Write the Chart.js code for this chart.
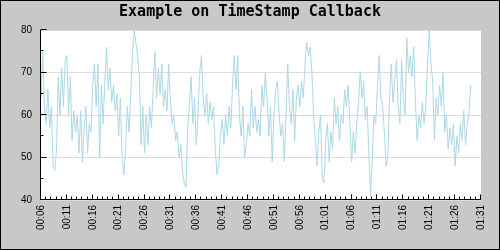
<!DOCTYPE html>
<html>
<head>
<meta charset="utf-8">
<script src="https://cdn.jsdelivr.net/npm/chart.js@4"></script>
<style>
  html, body { margin: 0; padding: 0; background: #c8c8c8; }
</style>
</head>
<body>
<canvas id="chart" width="500" height="250"></canvas>
<script>
// one reading every 20 s starting at 00:06
const startMinute = 6;
const stepMinutes = 1 / 3;
const values = [
  64, 75, 62, 58, 66, 57, 62, 48, 47, 52, 69, 60, 71, 62, 73,
  74, 60, 69, 54, 61, 56, 60, 51, 61, 49, 57, 62, 51, 58, 56,
  67, 72, 62, 72, 50, 67, 58, 68, 76, 66, 71, 63, 67, 61, 65,
  55, 64, 50, 46, 52, 62, 56, 65, 74, 80, 77, 74, 69, 53, 62,
  51, 60, 53, 62, 57, 66, 75, 64, 71, 65, 72, 62, 66, 61, 72,
  63, 58, 60, 54, 56, 50, 53, 47, 44, 43, 57, 62, 69, 58, 64,
  53, 60, 70, 74, 64, 60, 65, 58, 63, 59, 62, 52, 46, 48, 55,
  59, 53, 60, 55, 62, 57, 67, 74, 66, 74, 60, 55, 62, 50, 53,
  58, 55, 66, 57, 62, 56, 59, 55, 67, 62, 70, 64, 55, 62, 49,
  60, 66, 68, 60, 55, 58, 49, 60, 72, 62, 58, 66, 54, 64, 67,
  62, 68, 64, 72, 77, 74, 76, 70, 60, 54, 48, 56, 60, 45, 44,
  54, 58, 49, 56, 52, 64, 58, 62, 54, 60, 58, 66, 62, 67, 58,
  49, 56, 51, 58, 63, 70, 64, 68, 59, 62, 51, 41, 50, 60, 58,
  67, 74, 64, 62, 56, 48, 50, 64, 72, 63, 68, 73, 62, 58, 73,
  64, 60, 78, 70, 74, 69, 76, 63, 54, 60, 57, 63, 58, 62, 72,
  80, 72, 68, 54, 64, 60, 67, 62, 70, 56, 60, 52, 57, 53, 58,
  48, 55, 51, 58, 54, 61, 53, 58, 60, 67
];
const xTicks = [6, 11, 16, 21, 26, 31, 36, 41, 46, 51, 56, 61, 66, 71, 76, 81, 86, 91];
const yTicks = [40, 50, 60, 70, 80];

const points = values.map((v, i) => ({ x: startMinute + i * stepMinutes, y: v }));

function hhmm(m) {
  const h = Math.floor(m / 60);
  const mm = Math.round(m % 60);
  return String(h).padStart(2, '0') + ':' + String(mm).padStart(2, '0');
}

// gray margin, white plot, axes and inward tick marks like the original
const frame = {
  id: 'frame',
  beforeDraw(chart) {
    const { ctx, chartArea: a } = chart;
    ctx.save();
    ctx.fillStyle = '#c8c8c8';
    ctx.fillRect(0, 0, chart.width, chart.height);
    ctx.fillStyle = '#ffffff';
    ctx.fillRect(a.left, a.top, a.right - a.left, a.bottom - a.top);
    ctx.restore();
  },
  afterDraw(chart) {
    const { ctx, chartArea: a, scales: { x, y } } = chart;
    ctx.save();
    ctx.strokeStyle = '#000';
    ctx.lineWidth = 1;
    ctx.beginPath();
    const left = Math.round(a.left) - 0.5;
    const bottom = Math.round(a.bottom) - 0.5;
    ctx.moveTo(left, Math.round(a.top));
    ctx.lineTo(left, bottom);
    ctx.lineTo(Math.round(a.right), bottom);
    // x ticks every minute, longer every 5
    for (let m = xTicks[0]; m <= xTicks[xTicks.length - 1]; m++) {
      const px = Math.round(x.getPixelForValue(m)) - 0.5;
      const len = (m - xTicks[0]) % 5 === 0 ? 5 : 3;
      ctx.moveTo(px, bottom);
      ctx.lineTo(px, bottom - len);
    }
    // y ticks every 5, longer every 10
    for (let v = yTicks[0]; v <= yTicks[yTicks.length - 1]; v += 5) {
      const py = Math.round(y.getPixelForValue(v)) - 0.5;
      const len = v % 10 === 0 ? 6 : 3;
      ctx.moveTo(left, py);
      ctx.lineTo(left + len, py);
    }
    ctx.stroke();
    ctx.strokeRect(0.5, 0.5, chart.width - 1, chart.height - 1);
    ctx.restore();
  }
};

new Chart(document.getElementById('chart'), {
  type: 'line',
  data: {
    datasets: [{
      data: points,
      borderColor: '#add8e6',
      borderWidth: 1,
      pointRadius: 0,
      tension: 0,
      fill: false
    }]
  },
  options: {
    responsive: false,
    animation: false,
    layout: { padding: 0 },
    plugins: {
      legend: { display: false },
      tooltip: { enabled: false },
      title: {
        display: true,
        text: 'Example on TimeStamp Callback',
        color: '#000',
        font: { family: 'DejaVu Sans Mono', size: 15, weight: 'bold' },
        padding: { top: 3, bottom: 9 }
      }
    },
    scales: {
      x: {
        type: 'linear',
        min: xTicks[0],
        max: xTicks[xTicks.length - 1],
        afterBuildTicks(scale) { scale.ticks = xTicks.map(v => ({ value: v })); },
        afterFit(scale) { scale.height = 50; },
        grid: { display: false, drawTicks: false },
        border: { display: false },
        ticks: {
          autoSkip: false,
          minRotation: 90,
          maxRotation: 90,
          padding: 5,
          color: '#000',
          font: { family: 'Liberation Sans', size: 10 },
          callback: v => hhmm(v)
        }
      },
      y: {
        min: yTicks[0],
        max: yTicks[yTicks.length - 1],
        afterBuildTicks(scale) { scale.ticks = yTicks.map(v => ({ value: v })); },
        afterFit(scale) { scale.width = 41; },
        grid: { color: '#dcdcdc', drawTicks: false },
        border: { display: false },
        ticks: {
          padding: 9,
          color: '#000',
          font: { family: 'Liberation Sans', size: 10 }
        }
      },
      // empty right margin so the title stays centred on the whole image
      margin: {
        position: 'right',
        grid: { display: false, drawTicks: false },
        border: { display: false },
        ticks: { display: false },
        afterFit(scale) { scale.width = 19; }
      }
    }
  },
  plugins: [frame]
});
</script>
</body>
</html>
